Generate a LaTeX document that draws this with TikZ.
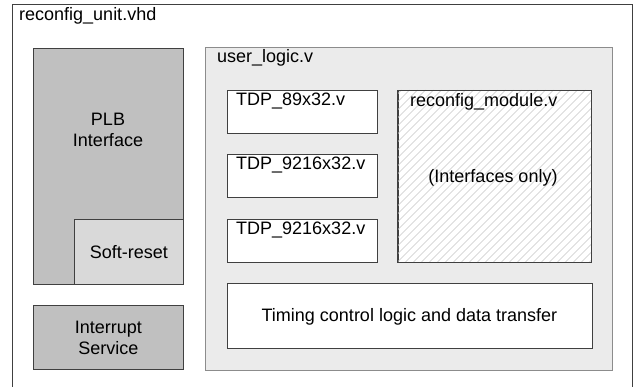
\documentclass[tikz,border=0pt]{standalone}
\usepackage{fontspec}
\setmainfont{Liberation Sans}
\begin{document}
\begin{tikzpicture}[x=1pt,y=-1pt,
  every node/.style={font=\fontsize{18}{21}\selectfont, inner sep=0pt},
  blk/.style={draw=black!75, line width=0.8pt, anchor=north west, minimum width=#1},
  blk/.default=10pt,
  txt/.style={align=center},
  lbl/.style={anchor=base west}]
\definecolor{plbgray}{HTML}{C0C0C0}
\definecolor{rstgray}{HTML}{D9D9D9}
\definecolor{ulgray}{HTML}{EBEBEB}
\definecolor{hatchgray}{HTML}{C8C8C8}
\useasboundingbox (0,0) rectangle (635,387);
\fill[white] (0,0) rectangle (635,387);

% top-level wrapper (continues below the page edge)
\coordinate (ubl) at (12,400);
\coordinate (utl) at (12,4);
\coordinate (utr) at (632,4);
\coordinate (ubr) at (632,400);
\draw[black!75, line width=0.8pt] (ubl) -- (utl) -- (utr) -- (ubr);
\node[lbl] (unitname) at (19,21) {reconfig\_unit.vhd};

% bus interface side
\node[blk=150pt, minimum height=236pt, fill=plbgray] (plb) at (33,48) {};
\node[txt] (plbtxt) at (108,130) {PLB\\Interface};
\node[blk=109pt, minimum height=65pt, fill=rstgray] (rst) at (74,219) {};
\node[txt] (rsttxt) at (rst.center) {Soft-reset};
\node[blk=150pt, minimum height=64pt, fill=plbgray] (irq) at (33,305) {};
\node[txt] (irqtxt) at (irq.center) {Interrupt\\Service};

% user logic
\node[blk=407pt, minimum height=323pt, fill=ulgray, draw=black!45] (ul) at (205,47) {};
\node[lbl] (ultxt) at (217,63) {user\_logic.v};

\node[blk=150pt, minimum height=43pt, fill=white] (ram1) at (227,90) {};
\node[lbl] (ram1txt) at (236,106) {TDP\_89x32.v};
\node[blk=150pt, minimum height=43pt, fill=white] (ram2) at (227,154) {};
\node[lbl] (ram2txt) at (236,170) {TDP\_9216x32.v};
\node[blk=150pt, minimum height=43pt, fill=white] (ram3) at (227,219) {};
\node[lbl] (ram3txt) at (236,235) {TDP\_9216x32.v};

% reconfigurable region, hatched
\node[blk=193pt, minimum height=172pt, fill=white] (rm) at (397.5,90) {};
\begin{scope}
  \clip (rm.south west) rectangle (rm.north east);
  \foreach \k in {-200,-192,...,200}
    \draw[hatchgray, line width=0.5pt] (397.5+\k,262) -- (397.5+\k+172,90);
\end{scope}
\draw[black!75, line width=0.8pt] (rm.south west) rectangle (rm.north east);
\node[lbl] (rmtxt) at (410,107) {reconfig\_module.v};
\node[txt] (rmsub) at (493,178) {(Interfaces only)};

\node[blk=365pt, minimum height=65pt, fill=white] (tc) at (226.5,283.5) {};
\node[txt] (tctxt) at (tc.center) {Timing control logic and data transfer};
\end{tikzpicture}
\end{document}
